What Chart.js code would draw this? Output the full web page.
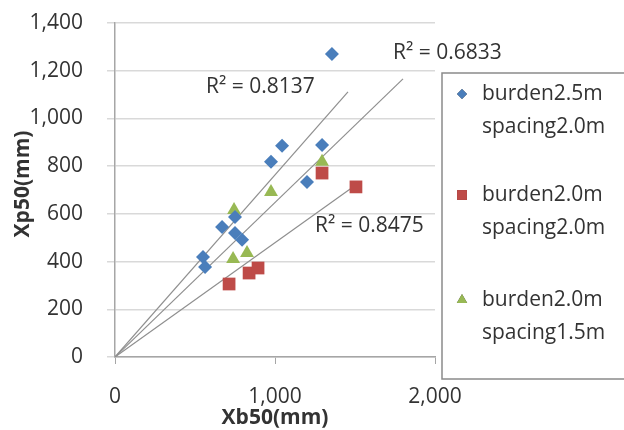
<!DOCTYPE html>
<html>
<head>
<meta charset="utf-8">
<script src="https://cdn.jsdelivr.net/npm/chart.js@4"></script>
<style>
  html, body { margin: 0; padding: 0; background: #fff; }
  #wrap { width: 624px; height: 430px; }
</style>
</head>
<body>
<div id="wrap"><canvas id="grafica" width="624" height="430"></canvas></div>
<script>
// ─── DATOS ────────────────────────────────────────────────────────
const serieNombres = [
    ['burden2.5m', 'spacing2.0m'],
    ['burden2.0m', 'spacing2.0m'],
    ['burden2.0m', 'spacing1.5m']
]

const b25s20X = [1356, 1044, 1294, 975, 1200, 669, 750, 750, 794, 550, 563]
const b25s20Y = [1270, 885, 889, 818, 734, 545, 587, 520, 491, 419, 377]

const b20s20X = [1294, 1506, 713, 838, 894]
const b20s20Y = [771, 713, 306, 352, 373]

const b20s15X = [1294, 975, 744, 738, 825]
const b20s15Y = [818, 692, 616, 411, 436]

// líneas de tendencia (origen → extremo dibujado)
const tendX = [[0, 1456], [0, 1531], [0, 1800]]
const tendY = [[0, 1111], [0, 734], [0, 1166]]
const r2Textos = ['R² = 0.8137', 'R² = 0.8475', 'R² = 0.6833']

const yTicks = [0, 200, 400, 600, 800, 1000, 1200, 1400]
const xTicks = [0, 1000, 2000]
const tituloX = 'Xb50(mm)'
const tituloY = 'Xp50(mm)'

const colores = ['#4a7ebb', '#be4b48', '#98b954']
const marcas = ['rectRot', 'rect', 'triangle']
const FUENTE = "'Open Sans', sans-serif"

const puntos = (xs, ys) => xs.map((x, i) => ({ x, y: ys[i] }))

// ─── ETIQUETAS R² (posición en unidades de datos) ─────────────────
const r2Pos = [
    { x: 569, y: 1132 },
    { x: 1250, y: 549 },
    { x: 1738, y: 1275 }
]

const pluginR2 = {
    id: 'r2',
    afterDatasetsDraw(chart) {
        const { ctx, scales: { x, y } } = chart
        ctx.save()
        ctx.font = `21px ${FUENTE}`
        ctx.fillStyle = '#333'
        ctx.textBaseline = 'middle'
        ctx.textAlign = 'left'
        r2Textos.forEach((t, i) => {
            ctx.fillText(t, x.getPixelForValue(r2Pos[i].x), y.getPixelForValue(r2Pos[i].y))
        })
        ctx.restore()
    }
}

// ─── TÍTULOS DE EJES ──────────────────────────────────────────────
const pluginTitulos = {
    id: 'titulos',
    afterDraw(chart) {
        const { ctx, chartArea: a } = chart
        ctx.save()
        ctx.font = `bold 21px ${FUENTE}`
        ctx.fillStyle = '#333'
        ctx.textAlign = 'center'
        ctx.textBaseline = 'middle'
        ctx.fillText(tituloX, (a.left + a.right) / 2, a.bottom + 61)
        ctx.translate(a.left - 92, (a.top + a.bottom) / 2 - 6)
        ctx.rotate(-Math.PI / 2)
        ctx.fillText(tituloY, 0, 0)
        ctx.restore()
    }
}

// ─── LEYENDA (caja a la derecha) ──────────────────────────────────
const pluginLeyenda = {
    id: 'leyenda',
    afterDraw(chart) {
        const ctx = chart.ctx
        ctx.save()
        ctx.strokeStyle = '#8a8a8a'
        ctx.lineWidth = 1.5
        ctx.strokeRect(442, 73, 200, 306)
        ctx.font = `21px ${FUENTE}`
        ctx.fillStyle = '#333'
        ctx.textBaseline = 'middle'
        const filas = [94, 195, 300]
        const radios = [5, 7, 6]
        serieNombres.forEach((lineas, i) => {
            Chart.helpers.drawPoint(ctx, {
                pointStyle: marcas[i], radius: radios[i], rotation: 0, borderWidth: 0
            }, 462, filas[i])
            ctx.fillStyle = colores[i]
            ctx.fill()
            ctx.fillStyle = '#333'
            lineas.forEach((l, j) => ctx.fillText(l, 482, filas[i] + j * 33))
        })
        ctx.restore()
    }
}

// ─── GRÁFICA ──────────────────────────────────────────────────────
const datasets = [
    { data: puntos(b25s20X, b25s20Y), pointRadius: 7 },
    { data: puntos(b20s20X, b20s20Y), pointRadius: 9 },
    { data: puntos(b20s15X, b20s15Y), pointRadius: 8 }
].map((d, i) => ({
    label: serieNombres[i].join(' '),
    data: d.data,
    pointStyle: marcas[i],
    pointRadius: d.pointRadius,
    pointHoverRadius: d.pointRadius,
    backgroundColor: colores[i],
    borderColor: colores[i],
    borderWidth: 0,
    showLine: false,
    order: 1
}))

tendX.forEach((xs, i) => {
    datasets.push({
        label: r2Textos[i],
        data: puntos(xs, tendY[i]),
        showLine: true,
        borderColor: '#8f8f8f',
        borderWidth: 1.2,
        pointRadius: 0,
        order: 2
    })
})

new Chart(document.getElementById('grafica'), {
    type: 'scatter',
    data: { datasets },
    options: {
        responsive: false,
        animation: false,
        layout: { padding: { left: 0, top: 23, right: 189, bottom: 0 } },
        plugins: {
            legend: { display: false },
            tooltip: { enabled: false }
        },
        scales: {
            x: {
                type: 'linear',
                min: 0,
                max: 2000,
                afterFit: s => {
                    s.height = 73
                    s.paddingLeft = 0
                    s.paddingRight = 0
                },
                afterBuildTicks: s => { s.ticks = xTicks.map(v => ({ value: v })) },
                grid: { drawOnChartArea: false, color: '#a6a6a6', tickLength: 7 },
                border: { color: '#a6a6a6', width: 1.5 },
                ticks: {
                    color: '#333',
                    padding: 20,
                    font: { family: FUENTE, size: 21 },
                    callback: v => v.toLocaleString('en-US')
                }
            },
            y: {
                type: 'linear',
                min: 0,
                max: 1400,
                afterFit: s => {
                    s.width = 115
                    s.paddingTop = 0
                    s.paddingBottom = 0
                },
                afterBuildTicks: s => { s.ticks = yTicks.map(v => ({ value: v })) },
                grid: { color: '#d9d9d9', lineWidth: 1.5, tickLength: 8 },
                border: { color: '#a6a6a6', width: 1.5 },
                ticks: {
                    color: '#333',
                    padding: 24,
                    font: { family: FUENTE, size: 21 },
                    callback: v => v.toLocaleString('en-US')
                }
            }
        }
    },
    plugins: [pluginR2, pluginTitulos, pluginLeyenda]
})
</script>
</body>
</html>
